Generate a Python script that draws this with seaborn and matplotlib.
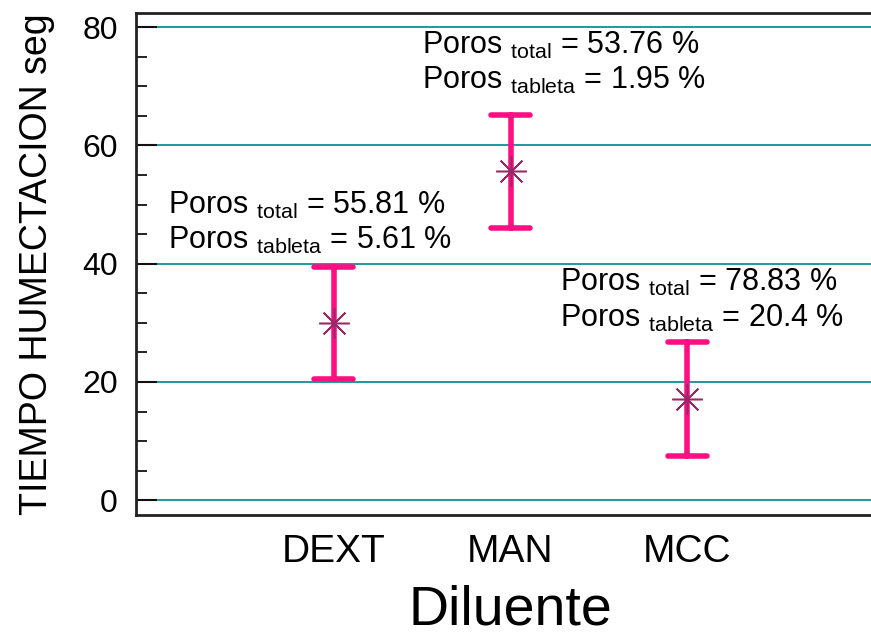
import matplotlib
matplotlib.use("Agg")
import matplotlib.pyplot as plt
from matplotlib.ticker import MultipleLocator
import seaborn as sns
import pandas as pd

# Wetting time per diluent: mean and half-width of the interval
diluentes = ["DEXT", "MAN", "MCC"]
medias = [30.0, 55.6, 17.1]
semi_intervalo = [9.5, 9.5, 9.6]
poros_total = ["55.81", "53.76", "78.83"]
poros_tableta = ["5.61", "1.95", "20.4"]

sns.set_theme(style="white")
plt.rcParams["font.family"] = ["Liberation Sans", "DejaVu Sans"]
plt.rcParams["mathtext.fontset"] = "custom"
plt.rcParams["mathtext.rm"] = "Liberation Sans"
for k in ["text.color", "axes.labelcolor", "xtick.color", "ytick.color"]:
    plt.rcParams[k] = "black"

# Long table: lower bound, mean and upper bound for each diluent
rows = []
for d, m, h in zip(diluentes, medias, semi_intervalo):
    for v in (m - h, m, m + h):
        rows.append({"Diluente": d, "Tiempo": v})
df = pd.DataFrame(rows)
df_media = pd.DataFrame({"Diluente": diluentes, "Tiempo": medias})

fig = plt.figure(figsize=(8.71, 6.43), dpi=100)
ax = fig.add_axes([136 / 871, 1 - 515 / 643, (885 - 136) / 871, (515 - 13) / 643])

grid_color = "#1f9a9a"
for yv in [0, 20, 40, 60, 80]:
    ax.axhline(yv, color=grid_color, lw=1.4, zorder=0)

pink = "#ff0f82"
# Interval from min to max of (low, mean, high), centre = median
sns.pointplot(data=df, x="Diluente", y="Tiempo", order=diluentes,
              estimator="median", errorbar=("pi", 100),
              color=pink, markers="", linestyles="none",
              capsize=0.22, err_kws={"linewidth": 4.0, "solid_capstyle": "round"},
              ax=ax)
sns.pointplot(data=df_media, x="Diluente", y="Tiempo", order=diluentes,
              errorbar=None, color="#9a2868", markers=(8, 2, 0),
              linestyles="none", markersize=22, markeredgewidth=1.1, ax=ax)

ax.set_xlim(-1.12, 3.12)
ax.set_ylim(-2.5, 82.4)
ax.yaxis.set_major_locator(MultipleLocator(20))
ax.yaxis.set_minor_locator(MultipleLocator(5))
ax.tick_params(axis="y", which="major", direction="in", length=15, width=1.5,
               color="#111111", labelsize=23, pad=13, left=True)
ax.tick_params(axis="y", which="minor", direction="in", length=8, width=1.3,
               color="#111111", left=True)
ax.tick_params(axis="x", length=0, labelsize=28, pad=14)
for s in ["left", "top", "bottom"]:
    ax.spines[s].set_color("#222222")
    ax.spines[s].set_linewidth(2)
ax.spines["right"].set_visible(False)

ax.set_ylabel("TIEMPO HUMECTACION seg", fontsize=27, labelpad=20)
ax.set_xlabel("Diluente", fontsize=40, labelpad=10)

# Porosity notes next to each interval
note_pos = [(-0.94, 49.9, 44.0), (0.50, 76.9, 71.0), (1.28, 36.9, 30.8)]
for (x, y1, y2), pt, pb in zip(note_pos, poros_total, poros_tableta):
    ax.text(x, y1, r"Poros $\mathregular{_{total}}$ = " + pt + " %",
            fontsize=22, ha="left", va="center")
    ax.text(x, y2, r"Poros $\mathregular{_{tableta}}$ = " + pb + " %",
            fontsize=22, ha="left", va="center")

fig.savefig("out.png", dpi=100)
